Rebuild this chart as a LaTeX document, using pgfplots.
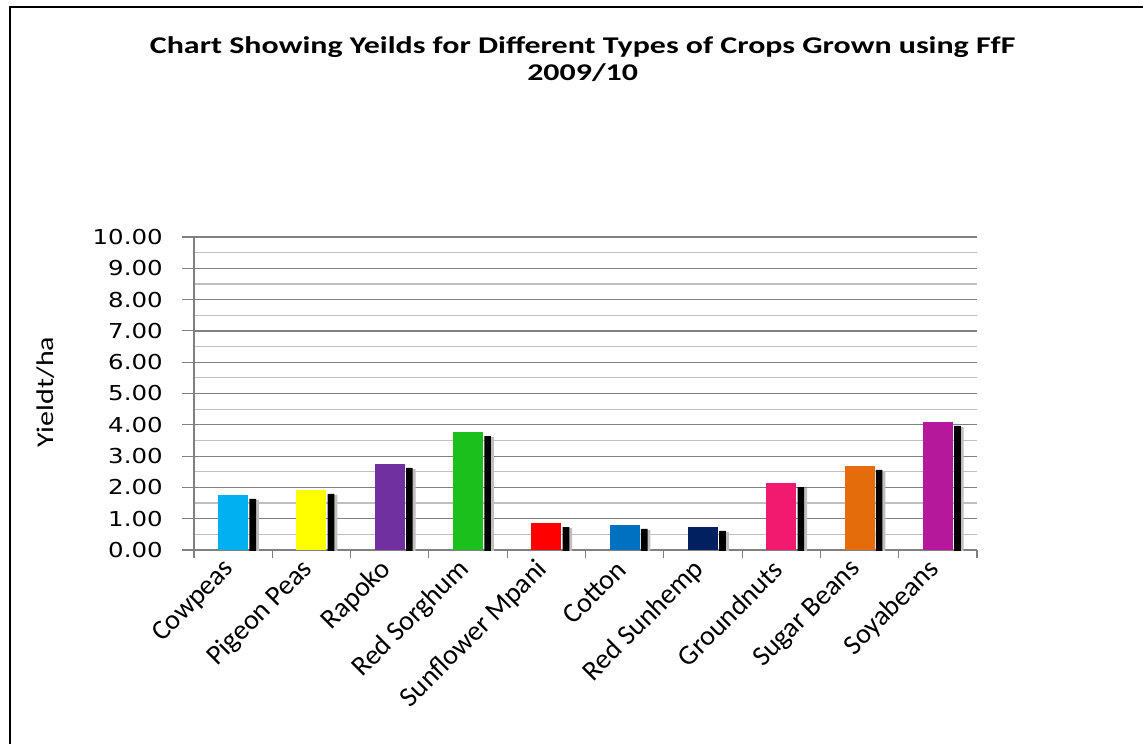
\documentclass[border=0pt]{standalone}
\usepackage{fontspec}
\setmainfont{Carlito}
\newfontfamily\tickfont[FakeStretch=1.19]{DejaVu Sans}
\newfontfamily\titlefont[FakeStretch=1.33]{Carlito}
\newfontfamily\labfont[FakeStretch=1.25]{Carlito}
\usepackage{pgfplots}
\pgfplotsset{compat=1.18}

\definecolor{gridd}{HTML}{808080}
\definecolor{gridl}{HTML}{BFBFBF}
\definecolor{cCowpeas}{HTML}{00B0F0}
\definecolor{cPigeon}{HTML}{FFFF00}
\definecolor{cRapoko}{HTML}{7030A0}
\definecolor{cSorghum}{HTML}{1CC01C}
\definecolor{cSunflower}{HTML}{FF0000}
\definecolor{cCotton}{HTML}{0070C0}
\definecolor{cSunhemp}{HTML}{002060}
\definecolor{cGroundnuts}{HTML}{F21A6E}
\definecolor{cSugar}{HTML}{E46C0A}
\definecolor{cSoya}{HTML}{B5189B}

% yield t/ha per crop, index 0..9
\pgfplotstableread{
x y
0 1.76
1 1.92
2 2.75
3 3.77
4 0.86
5 0.80
6 0.74
7 2.14
8 2.69
9 4.09
}\yields

\begin{document}
\begin{tikzpicture}
\path[use as bounding box] (0,0) rectangle (857.25pt,558pt);
\draw[line width=1.6pt] (7.5pt,0) -- (7.5pt,552.75pt) -- (857.25pt,552.75pt);

\node[font=\titlefont\bfseries\fontsize{18}{20.5}\selectfont, align=center]
  at (437pt,513.75pt) {Chart Showing Yeilds for Different Types of Crops Grown using FfF\\2009/10};

\node[rotate=90, font=\labfont\fontsize{18}{21}\selectfont] at (34.5pt,264pt) {Yieldt/ha};

\begin{axis}[
  at={(145.5pt,145.5pt)}, anchor=south west,
  scale only axis, width=587.25pt, height=234.75pt,
  xmin=-0.5, xmax=9.5, ymin=0, ymax=10,
  axis lines*=left,
  axis line style={gridd, line width=0.8pt},
  tick align=outside,
  xtick={0,...,9},
  xticklabels={Cowpeas, Pigeon Peas, Rapoko, Red Sorghum, Sunflower Mpani, Cotton, Red Sunhemp, Groundnuts, Sugar Beans, Soyabeans},
  xticklabel style={rotate=45, anchor=east, font=\fontsize{21}{24}\selectfont},
  major x tick style={draw=none},
  minor xtick={-0.5,0.5,...,9.5},
  minor x tick style={gridd, line width=0.8pt},
  minor tick length=6pt,
  ytick={0,1,...,10},
  minor ytick={0.5,1.5,...,9.5},
  major tick length=9pt,
  y tick style={gridd, line width=0.8pt},
  minor y tick style={draw=none},
  ymajorgrids, yminorgrids,
  major grid style={gridd, line width=0.9pt},
  minor grid style={gridl, line width=0.9pt},
  yticklabel style={xshift=-11pt, font=\tickfont\fontsize{15.4}{18}\selectfont,
    /pgf/number format/.cd, fixed, fixed zerofill, precision=2, assume math mode=true},
  ybar, bar width=0.383,
]
% shadow behind each bar
\addplot[draw=none, fill=gridl, bar width=0.10, bar shift=0.28, yshift=-3.8pt] table[x=x,y=y] {\yields};
\addplot[draw=none, fill=black, bar width=0.085, bar shift=0.25, yshift=-3pt] table[x=x,y=y] {\yields};
% coloured bars
\addplot[draw=none, fill=cCowpeas, bar shift=0] coordinates {(0,1.76)};
\addplot[draw=none, fill=cPigeon, bar shift=0] coordinates {(1,1.92)};
\addplot[draw=none, fill=cRapoko, bar shift=0] coordinates {(2,2.75)};
\addplot[draw=none, fill=cSorghum, bar shift=0] coordinates {(3,3.77)};
\addplot[draw=none, fill=cSunflower, bar shift=0] coordinates {(4,0.86)};
\addplot[draw=none, fill=cCotton, bar shift=0] coordinates {(5,0.80)};
\addplot[draw=none, fill=cSunhemp, bar shift=0] coordinates {(6,0.74)};
\addplot[draw=none, fill=cGroundnuts, bar shift=0] coordinates {(7,2.14)};
\addplot[draw=none, fill=cSugar, bar shift=0] coordinates {(8,2.69)};
\addplot[draw=none, fill=cSoya, bar shift=0] coordinates {(9,4.09)};
\end{axis}
\end{tikzpicture}
\end{document}
